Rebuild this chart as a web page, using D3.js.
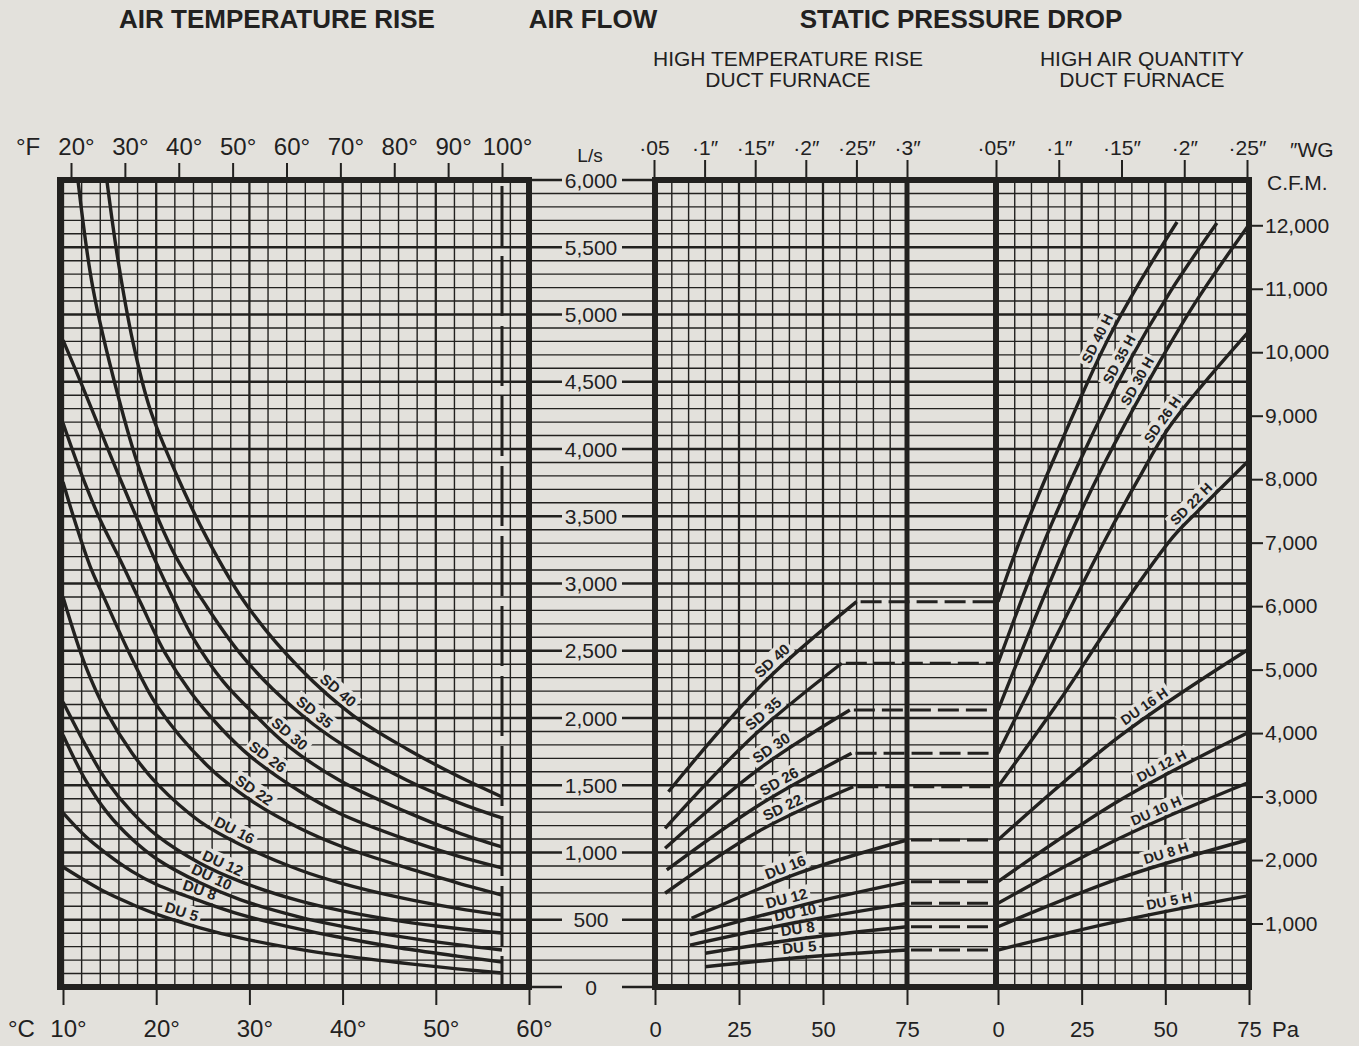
<!DOCTYPE html>
<html><head><meta charset="utf-8">
<script src="https://cdn.jsdelivr.net/npm/d3@7"></script>
<style>html,body{margin:0;padding:0;background:#e3e1dc;}svg{display:block}</style>
</head><body>
<svg id="chart" width="1359" height="1046"></svg>
<script>
// ---------------- DATA ----------------
const flowTicksLs = [0,500,1000,1500,2000,2500,3000,3500,4000,4500,5000,5500,6000];
const cfmTicks = [1000,2000,3000,4000,5000,6000,7000,8000,9000,10000,11000,12000];
const degFTicks = [20,30,40,50,60,70,80,90,100];
const degCTicks = [10,20,30,40,50,60];
const paTicks = [0,25,50,75];
const inchMidTicks = [0.05,0.10,0.15,0.20,0.25,0.30];
const inchMidLabels = ["·05","·1″","·15″","·2″","·25″","·3″"];
const inchRightTicks = [0.05,0.10,0.15,0.20,0.25];
const inchRightLabels = ["·05″","·1″","·15″","·2″","·25″"];
const seriesNames = ["SD 40","SD 35","SD 30","SD 26","SD 22","DU 16","DU 12","DU 10","DU 8","DU 5"];
const seriesNamesH = ["SD 40 H","SD 35 H","SD 30 H","SD 26 H","SD 22 H","DU 16 H","DU 12 H","DU 10 H","DU 8 H","DU 5 H"];

// Air temperature rise (°C) vs air flow (L/s)
const riseSD40 = [[14.7,6000],[15.9,5405],[17.5,4796],[19.3,4305],[22.2,3807],[25.5,3330],[29.7,2840],[35.4,2370],[41.1,2020],[46.9,1770],[52.3,1570],[57.1,1413]];
const riseSD35 = [[11.6,6000],[13.2,5200],[15.8,4424],[18.3,3830],[21.8,3240],[25.5,2820],[29.0,2480],[32.5,2215],[36.0,2000],[39.7,1815],[46.9,1537],[52.3,1375],[57.1,1257]];
const riseSD30 = [[10.0,4810],[12.0,4480],[14.0,4140],[16.0,3800],[17.9,3490],[19.9,3170],[21.8,2890],[24.0,2590],[27.2,2270],[30.5,2030],[34.0,1800],[39.7,1535],[46.9,1300],[52.3,1150],[57.1,1041]];
const riseSD26 = [[10.0,4193],[11.8,3844],[14.0,3472],[16.1,3180],[18.3,2860],[20.9,2490],[23.6,2200],[27.0,1920],[30.1,1715],[35.4,1455],[39.7,1290],[46.9,1095],[52.3,975],[57.1,885]];
const riseSD22 = [[10.0,3755],[11.3,3457],[12.9,3130],[14.5,2880],[17.2,2470],[20.1,2090],[25.5,1645],[30.1,1390],[35.4,1180],[39.7,1050],[46.9,885],[52.3,775],[57.1,684]];
const riseDU16 = [[10.0,2900],[12.4,2390],[14.7,2040],[17.4,1740],[20.1,1510],[24.7,1230],[29.0,1060],[35.4,870],[39.7,775],[46.2,665],[52.3,585],[57.1,535]];
const riseDU12 = [[10.0,2119],[12.4,1800],[14.7,1530],[17.4,1300],[20.1,1125],[24.7,920],[29.0,785],[35.4,640],[39.7,570],[46.2,490],[52.3,435],[57.1,401]];
const riseDU10 = [[10.0,1874],[12.4,1540],[14.7,1300],[17.4,1100],[20.1,950],[24.7,775],[29.0,650],[35.4,520],[39.7,455],[46.2,375],[52.3,315],[57.1,275]];
const riseDU8  = [[10.0,1294],[12.4,1120],[14.7,990],[17.4,860],[20.1,760],[24.7,640],[29.0,540],[35.4,430],[39.7,370],[46.2,290],[52.3,230],[57.1,186]];
const riseDU5  = [[10.0,892],[12.4,790],[14.7,700],[17.4,615],[20.1,540],[24.7,440],[29.0,365],[35.4,280],[39.7,235],[46.2,180],[52.3,135],[57.1,104]];
const riseLabelAt = [38.8,36.3,33.6,31.3,29.9,27.9,26.7,25.5,24.3,22.4];

// High temperature rise duct furnace: static pressure (Pa) vs L/s
const htrSD40 = [[4.0,1452],[32.0,2253],[60.0,2865]];
const htrSD35 = [[3.0,1180],[29.3,1866],[55.6,2407]];
const htrSD30 = [[3.0,1031],[30.5,1613],[58.0,2059]];
const htrSD26 = [[3.5,870],[31.0,1353],[58.5,1738]];
const htrSD22 = [[3.0,697],[31.0,1160],[59.0,1489]];
const htrDU16 = [[10.9,511],[42.9,848],[75.0,1093]];
const htrDU12 = [[10.4,387],[42.7,602],[75.0,783]];
const htrDU10 = [[10.4,312],[42.7,483],[75.0,622]];
const htrDU8  = [[14.9,251],[44.9,364],[75.0,448]];
const htrDU5  = [[14.9,151],[44.9,223],[75.0,275]];
const htrLabelAt = [36.9,34.2,36.3,38.4,39.3,39.9,39.9,42.3,42.9,43.2];

// High air quantity duct furnace: static pressure (Pa) vs L/s
const haqSD40 = [[0,2865],[6.6,3323],[18.5,4030],[32.3,4788],[42.4,5242],[53.5,5688]];
const haqSD35 = [[0,2407],[14.0,3323],[26.0,3993],[38.8,4632],[51.4,5167],[65.4,5680]];
const haqSD30 = [[0,2059],[20.9,3323],[32.0,3903],[44.2,4468],[58.9,5086],[74.5,5651]];
const haqSD26 = [[0,1738],[32.0,3323],[41.8,3770],[51.4,4171],[74.5,4862]];
const haqSD22 = [[0,1489],[18.5,2134],[35.0,2751],[52.3,3346],[59.8,3540],[74.5,3903]];
const haqDU16 = [[0,1093],[36.5,1867],[74.5,2506]];
const haqDU12 = [[0,783],[36.5,1390],[74.5,1888]];
const haqDU10 = [[0,622],[36.5,1108],[74.5,1517]];
const haqDU8  = [[0,448],[36.5,810],[74.5,1093]];
const haqDU5  = [[0,275],[36.5,491],[74.5,677]];
const haqLabelAt = [32.3,38.8,44.2,51.5,59.8,45.4,50.2,48.4,51.1,51.7];

const riseCurves = [riseSD40,riseSD35,riseSD30,riseSD26,riseSD22,riseDU16,riseDU12,riseDU10,riseDU8,riseDU5];
const htrCurves = [htrSD40,htrSD35,htrSD30,htrSD26,htrSD22,htrDU16,htrDU12,htrDU10,htrDU8,htrDU5];
const haqCurves = [haqSD40,haqSD35,haqSD30,haqSD26,haqSD22,haqDU16,haqDU12,haqDU10,haqDU8,haqDU5];

// ---------------- RENDER ----------------
const INK = "#22211f", PAPER = "#e3e1dc";
const FONT = "'Liberation Sans', Arial, Helvetica, sans-serif";
const LS_TO_CFM = 2.11888;

const y = d3.scaleLinear().domain([0,6000]).range([987,180]);
const yCfm = d3.scaleLinear().domain([0,6000*LS_TO_CFM]).range([987,180]);
const xC = d3.scaleLinear().domain([10,60]).range([63,529]);
const xF = d3.scaleLinear().domain([20,100]).range([71,502]);
const xPaM = d3.scaleLinear().domain([0,75]).range([655,907]);
const xInM = d3.scaleLinear().domain([0.05,0.30]).range([654,907]);
const xPaR = d3.scaleLinear().domain([0,75]).range([998,1249]);
const xInR = d3.scaleLinear().domain([0.05,0.25]).range([996,1247]);

const svg = d3.select("#chart").style("font-family", FONT);
svg.append("rect").attr("width",1359).attr("height",1046).attr("fill",PAPER);

const gGrid = svg.append("g");
const gMask = svg.append("g");
const gFrame = svg.append("g");
const gCurves = svg.append("g");
const gText = svg.append("g");

// horizontal grid lines (every 100 L/s) spanning all panels
d3.range(0,6001,100).forEach(v => {
  const thick = v % 500 === 0;
  gGrid.append("line").attr("x1",57).attr("x2",1249).attr("y1",y(v)).attr("y2",y(v))
    .attr("stroke",INK).attr("stroke-width", thick ? 2.3 : 1.4);
});
// vertical grid, left panel every 2 °C
d3.range(10,61,2).forEach(c => {
  gGrid.append("line").attr("x1",xC(c)).attr("x2",xC(c)).attr("y1",180).attr("y2",987)
    .attr("stroke",INK).attr("stroke-width", c % 10 === 0 ? 2.3 : 1.4);
});
// vertical grid, pressure panels every 5 Pa
[xPaM, xPaR].forEach(sc => {
  d3.range(0,76,5).forEach(p => {
    gGrid.append("line").attr("x1",sc(p)).attr("x2",sc(p)).attr("y1",180).attr("y2",987)
      .attr("stroke",INK).attr("stroke-width", (p === 25 || p === 50) ? 2.3 : 1.4);
  });
});

// frames
gFrame.append("rect").attr("x",xC(10)-3).attr("y",180).attr("width",xC(60)-xC(10)+3).attr("height",807)
  .attr("fill","none").attr("stroke",INK).attr("stroke-width",6);
gFrame.append("line").attr("x1",xPaM(0)-3).attr("x2",xPaR(75)+3).attr("y1",180).attr("y2",180).attr("stroke",INK).attr("stroke-width",6);
gFrame.append("line").attr("x1",xPaM(0)-3).attr("x2",xPaR(75)+3).attr("y1",987).attr("y2",987).attr("stroke",INK).attr("stroke-width",6);
[xPaM(0), xPaM(75), xPaR(0)-2, xPaR(75)].forEach((xx,i) => {
  gFrame.append("line").attr("x1",xx).attr("x2",xx).attr("y1",177).attr("y2",990)
    .attr("stroke",INK).attr("stroke-width", i===1 ? 5 : 6);
});
// 100 °F limit dashed line
gFrame.append("line").attr("x1",xF(100)).attr("x2",xF(100)).attr("y1",186).attr("y2",984)
  .attr("stroke",INK).attr("stroke-width",3).attr("stroke-dasharray","60,10");

const line = d3.line().curve(d3.curveCatmullRom.alpha(0.5));

function drawCurve(pts, xs) {
  return gCurves.append("path").attr("d", line(pts.map(p => [xs(p[0]), y(p[1])])))
    .attr("fill","none").attr("stroke",INK).attr("stroke-width",3.4).attr("stroke-linecap","butt");
}
function pointAtX(node, X) {
  let lo = 0, hi = node.getTotalLength();
  for (let k = 0; k < 40; k++) {
    const mid = (lo + hi) / 2;
    if (node.getPointAtLength(mid).x < X) lo = mid; else hi = mid;
  }
  const p = node.getPointAtLength(lo);
  const a = node.getPointAtLength(Math.max(0, lo - 5));
  const b = node.getPointAtLength(Math.min(node.getTotalLength(), lo + 5));
  return {x: p.x, y: p.y, ang: Math.atan2(b.y - a.y, b.x - a.x) * 180 / Math.PI};
}
function label(node, X, txt, size) {
  const p = pointAtX(node, X);
  const tr = `translate(${p.x},${p.y}) rotate(${p.ang})`;
  const t = gText.append("text").attr("transform", tr).attr("y", -5).attr("text-anchor","middle")
    .attr("font-size", size).attr("font-weight","bold").attr("fill", INK).text(txt);
  const w = t.node().getComputedTextLength();
  gMask.append("rect").attr("transform", tr).attr("x", -w/2 - 3).attr("y", -size - 4).attr("width", w + 6)
    .attr("height", size + 2).attr("fill", PAPER);
}

// left panel curves
riseCurves.forEach((pts, i) => {
  const p = drawCurve(pts, xC);
  label(p.node(), xC(riseLabelAt[i]), seriesNames[i], 15);
});
// middle panel curves + dashed carry-over
htrCurves.forEach((pts, i) => {
  const p = drawCurve(pts, xPaM);
  label(p.node(), xPaM(htrLabelAt[i]), seriesNames[i], 15);
  const last = pts[pts.length - 1];
  gCurves.append("line").attr("x1", xPaM(last[0]) + 4).attr("x2", xPaR(0) - 4)
    .attr("y1", y(last[1])).attr("y2", y(last[1]))
    .attr("stroke", INK).attr("stroke-width", 3).attr("stroke-dasharray", "21,7");
});
// right panel curves
haqCurves.forEach((pts, i) => {
  const p = drawCurve(pts, xPaR);
  label(p.node(), xPaR(haqLabelAt[i]), seriesNamesH[i], 14);
});

// ---------- axes ----------
function styleAxis(g, size) {
  g.select(".domain").remove();
  g.selectAll(".tick line").attr("stroke", INK).attr("stroke-width", 2);
  g.selectAll(".tick text").attr("fill", INK).attr("font-size", size).attr("font-family", FONT);
}
const axF = gText.append("g").attr("transform","translate(0,180)")
  .call(d3.axisTop(xF).tickValues(degFTicks).tickSize(17).tickPadding(8).tickFormat(d => d + "°"));
styleAxis(axF, 24); axF.selectAll(".tick text").attr("dx", 5);
const axC = gText.append("g").attr("transform","translate(0,987)")
  .call(d3.axisBottom(xC).tickValues(degCTicks).tickSize(18).tickFormat(d => d + "°"));
styleAxis(axC, 24); axC.selectAll(".tick text").attr("dy", null).attr("y", 50).attr("dx", 5);

const axIM = gText.append("g").attr("transform","translate(0,180)")
  .call(d3.axisTop(xInM).tickValues(inchMidTicks).tickSize(20).tickPadding(5).tickFormat((d,i) => inchMidLabels[i]));
styleAxis(axIM, 21);
const axIR = gText.append("g").attr("transform","translate(0,180)")
  .call(d3.axisTop(xInR).tickValues(inchRightTicks).tickSize(20).tickPadding(5).tickFormat((d,i) => inchRightLabels[i]));
styleAxis(axIR, 21);

[xPaM, xPaR].forEach(sc => {
  const a = gText.append("g").attr("transform","translate(0,987)")
    .call(d3.axisBottom(sc).tickValues(paTicks).tickSize(18).tickFormat(d3.format("d")));
  styleAxis(a, 22); a.selectAll(".tick text").attr("dy", null).attr("y", 50);
});

const axCfm = gText.append("g").attr("transform",`translate(${xPaR(75)+2},0)`)
  .call(d3.axisRight(yCfm).tickValues(cfmTicks).tickSize(12).tickPadding(2).tickFormat(d3.format(",")));
styleAxis(axCfm, 21);

// L/s labels in the gap
flowTicksLs.forEach(v => {
  gMask.append("rect").attr("x", 562).attr("y", y(v) - 8).attr("width", 60).attr("height", 16).attr("fill", PAPER);
  gText.append("text").attr("x", 591).attr("y", y(v) + 7.5).attr("text-anchor","middle")
    .attr("font-size", 21).attr("fill", INK).text(d3.format(",")(v));
});

// unit labels
const unit = (x, yy, t, size, anchor="start") => gText.append("text").attr("x", x).attr("y", yy)
  .attr("font-size", size).attr("text-anchor", anchor).attr("fill", INK).text(t);
unit(16, 155, "°F", 24);
unit(8, 1037, "°C", 24);
unit(590, 162, "L/s", 19, "middle");
unit(1272, 1037, "Pa", 22);
unit(1267, 190, "C.F.M.", 21);
unit(1290, 157, "″WG", 21);

// titles
const title = (x, yy, t) => gText.append("text").attr("x", x).attr("y", yy).attr("text-anchor","middle")
  .attr("font-size", 26).attr("font-weight","bold").attr("fill", INK).text(t);
title(277, 28, "AIR TEMPERATURE RISE");
title(593, 28, "AIR FLOW");
title(961, 28, "STATIC PRESSURE DROP");
const sub = (x, yy, t) => gText.append("text").attr("x", x).attr("y", yy).attr("text-anchor","middle")
  .attr("font-size", 21).attr("fill", INK).text(t);
sub(788, 66, "HIGH TEMPERATURE RISE");
sub(788, 87, "DUCT FURNACE");
sub(1142, 66, "HIGH AIR QUANTITY");
sub(1142, 87, "DUCT FURNACE");
</script></body></html>
